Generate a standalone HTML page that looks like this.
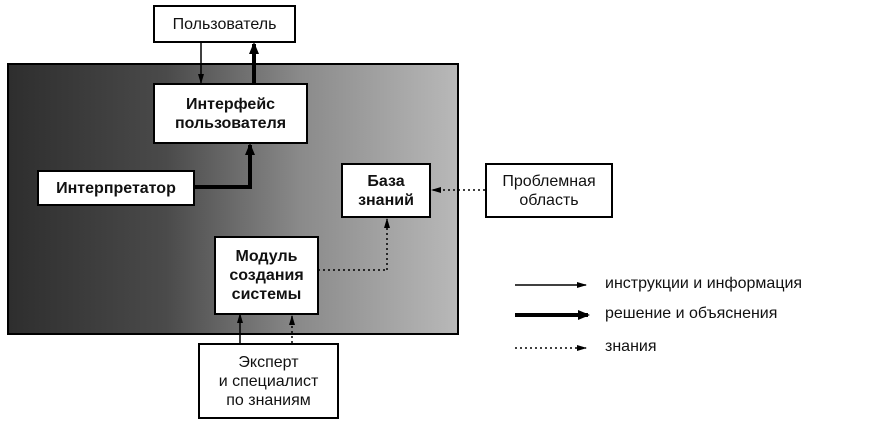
<!DOCTYPE html>
<html><head><meta charset="utf-8"><style>
body{margin:0;width:874px;height:433px;background:#fff;position:relative;overflow:hidden;font-family:"Liberation Sans",sans-serif;}
.bg{position:absolute;left:7px;top:63px;width:448px;height:268px;border:2px solid #000;background:linear-gradient(90deg,#2e2e2e 0%,#4a4a4a 35%,#8a8a8a 65%,#b8b8b8 100%);}
.b{position:absolute;background:#fff;border:2px solid #000;box-sizing:border-box;display:flex;align-items:center;justify-content:center;text-align:center;font-size:16px;line-height:19px;font-weight:bold;color:#111;}
.n{font-weight:normal}
.t{position:absolute;font-size:16px;color:#111;}
</style></head><body>
<div class="bg"></div>
<svg width="874" height="433" style="position:absolute;left:0;top:0">
<defs>
<marker id="a" markerWidth="10" markerHeight="8" refX="9" refY="4" orient="auto" markerUnits="userSpaceOnUse"><path d="M0,1 L10,4 L0,7z" fill="#000"/></marker>
<marker id="k" markerWidth="12" markerHeight="12" refX="10" refY="6" orient="auto" markerUnits="userSpaceOnUse"><path d="M0,1 L12,6 L0,11z" fill="#000"/></marker>
</defs>
<line x1="201" y1="42" x2="201" y2="83" stroke="#000" stroke-width="1.5" marker-end="url(#a)"/>
<line x1="254" y1="83" x2="254" y2="44" stroke="#000" stroke-width="4" marker-end="url(#k)"/>
<polyline points="195,187 250,187 250,145" fill="none" stroke="#000" stroke-width="4" marker-end="url(#k)"/>
<line x1="485" y1="190" x2="432" y2="190" stroke="#000" stroke-width="1.5" stroke-dasharray="2,3" marker-end="url(#a)"/>
<line x1="387" y1="270" x2="387" y2="219" stroke="#000" stroke-width="1.5" stroke-dasharray="2,3" marker-end="url(#a)"/>
<line x1="318" y1="270" x2="387" y2="270" stroke="#000" stroke-width="1.5" stroke-dasharray="2,3"/>
<line x1="240" y1="343" x2="240" y2="314" stroke="#000" stroke-width="1.5" marker-end="url(#a)"/>
<line x1="292" y1="343" x2="292" y2="316" stroke="#000" stroke-width="1.5" stroke-dasharray="2,3" marker-end="url(#a)"/>
<line x1="515" y1="285" x2="586" y2="285" stroke="#000" stroke-width="1.5" marker-end="url(#a)"/>
<line x1="515" y1="315" x2="588" y2="315" stroke="#000" stroke-width="4" marker-end="url(#k)"/>
<line x1="515" y1="348" x2="586" y2="348" stroke="#000" stroke-width="1.5" stroke-dasharray="2,3" marker-end="url(#a)"/>
</svg>
<div class="b n" style="left:153px;top:5px;width:143px;height:38px">Пользователь</div>
<div class="b" style="left:153px;top:83px;width:155px;height:61px">Интерфейс<br>пользователя</div>
<div class="b" style="left:37px;top:170px;width:158px;height:36px">Интерпретатор</div>
<div class="b" style="left:341px;top:163px;width:90px;height:55px">База<br>знаний</div>
<div class="b n" style="left:485px;top:163px;width:128px;height:55px">Проблемная<br>область</div>
<div class="b" style="left:214px;top:236px;width:105px;height:79px">Модуль<br>создания<br>системы</div>
<div class="b n" style="left:198px;top:343px;width:141px;height:76px">Эксперт<br>и специалист<br>по знаниям</div>
<div class="t" style="left:605px;top:275px">инструкции и информация</div>
<div class="t" style="left:605px;top:305px">решение и объяснения</div>
<div class="t" style="left:605px;top:338px">знания</div>
</body></html>
